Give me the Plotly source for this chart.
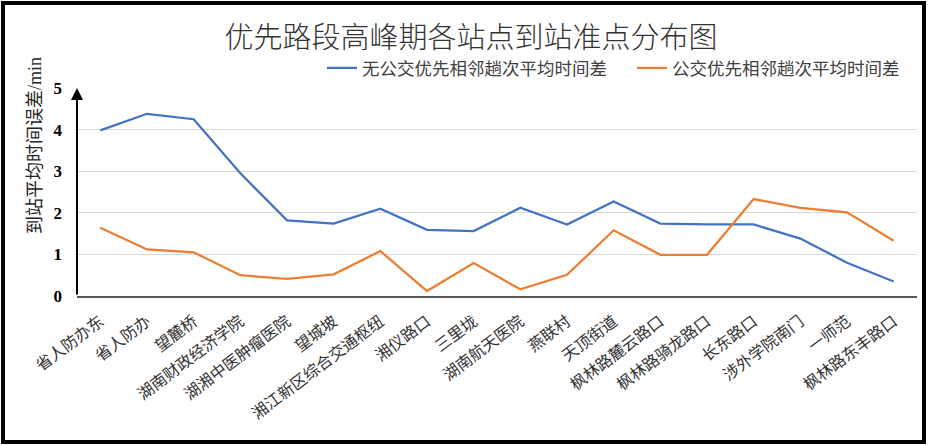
import plotly.graph_objects as go

stations = ["省人防办东", "省人防办", "望麓桥", "湖南财政经济学院", "湖湘中医肿瘤医院", "望城坡",
            "湘江新区综合交通枢纽", "湘仪路口", "三里垅", "湖南航天医院", "燕联村", "天顶街道",
            "枫林路麓云路口", "枫林路骑龙路口", "长东路口", "涉外学院南门", "一师范", "枫林路东丰路口"]
no_priority = [3.98, 4.38, 4.25, 2.95, 1.82, 1.74, 2.10, 1.59, 1.56, 2.12, 1.72, 2.27,
               1.74, 1.72, 1.72, 1.38, 0.80, 0.35]
priority = [1.64, 1.12, 1.05, 0.50, 0.41, 0.52, 1.08, 0.12, 0.79, 0.16, 0.51, 1.58,
            0.99, 0.99, 2.33, 2.12, 2.01, 1.33]
series_names = ["无公交优先相邻趟次平均时间差", "公交优先相邻趟次平均时间差"]
y_ticks = [0, 1, 2, 3, 4, 5]

W, H = 928, 445
L, R, T, B = 77, 11, 88, 149
pw, ph = W - L - R, H - T - B

def px_x(p):
    return (p - L) / pw

def px_y(p):
    return (H - B - p) / ph

cjk = "Noto Sans CJK SC, sans-serif"
serif = "Liberation Serif, Times New Roman, serif"

fig = go.Figure()
fig.add_trace(go.Scatter(x=stations, y=no_priority, mode="lines", name=series_names[0],
                         line=dict(color="#4472C4", width=2.25)))
fig.add_trace(go.Scatter(x=stations, y=priority, mode="lines", name=series_names[1],
                         line=dict(color="#ED7D31", width=2.25)))

fig.update_layout(
    width=W, height=H,
    margin=dict(l=L, r=R, t=T, b=B, autoexpand=False),
    paper_bgcolor="white", plot_bgcolor="white",
    title=dict(text="优先路段高峰期各站点到站准点分布图", x=px_x(471), xanchor="center", xref="paper",
               y=1 - 38 / H, yanchor="middle",
               font=dict(family=cjk, size=29, color="#333333", weight=300)),
    showlegend=True,
    legend=dict(orientation="h", x=px_x(322), xanchor="left", y=px_y(68), yanchor="middle",
                font=dict(family=cjk, size=17.5, color="#404040"), bgcolor="rgba(0,0,0,0)",
                itemwidth=30, tracegroupgap=0, entrywidth=265),
    xaxis=dict(tickangle=-37, tickfont=dict(family=cjk, size=16, color="#333333"),
               showline=True, linecolor="#595959", linewidth=2, showgrid=False,
               ticks="", ticklabelstandoff=8, range=[-0.5, len(stations) - 0.5], automargin=False),
    yaxis=dict(range=[0, 5], tickvals=y_ticks, showgrid=True, gridcolor="#D9D9D9", gridwidth=1,
               tickfont=dict(family=serif, size=17, color="#000000", weight="bold"),
               showline=False, zeroline=False, ticks="", ticklabelstandoff=14, automargin=False),
)

# y-axis title (placed above centre, as in the original)
fig.add_annotation(xref="paper", yref="paper", x=px_x(33), y=px_y(146), xanchor="center",
                   yanchor="middle", textangle=-90, showarrow=False,
                   text="到站平均时间误差<span style=\"font-family:Liberation Serif\">/min</span>",
                   font=dict(family=cjk, size=18, color="#262626"))

# vertical axis with arrow
fig.add_annotation(xref="paper", x=0, yref="y", y=5, axref="pixel", ayref="pixel",
                   ax=0, ay=ph, showarrow=True, arrowhead=2, arrowsize=1.2, arrowwidth=2,
                   arrowcolor="#000000", text="")

# outer frame
fig.add_shape(type="rect", xref="paper", yref="paper",
              x0=px_x(3), x1=px_x(924), y0=px_y(442), y1=px_y(3),
              line=dict(color="#000000", width=4), fillcolor="rgba(0,0,0,0)", layer="above")

fig.write_html("out.html", config={"displayModeBar": False},
               post_script="document.body.style.margin='0';document.body.style.overflow='hidden';")
